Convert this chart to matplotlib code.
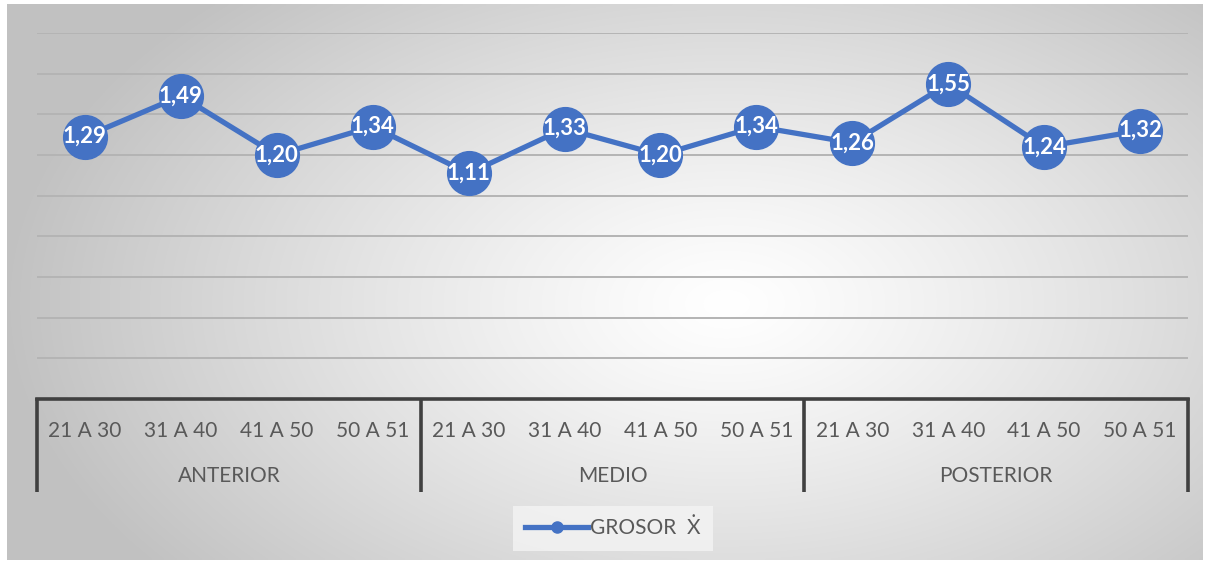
import numpy as np
import matplotlib
matplotlib.use("Agg")
import matplotlib.pyplot as plt
from matplotlib.lines import Line2D
from matplotlib.transforms import blended_transform_factory

plt.rcParams['font.family'] = ['Lato', 'DejaVu Sans']

# datos
rangos = ["21 A 30", "31 A 40", "41 A 50", "50 A 51"]
zonas = ["ANTERIOR", "MEDIO", "POSTERIOR"]
grosor = [1.29, 1.49, 1.20, 1.34, 1.11, 1.33, 1.20, 1.34, 1.26, 1.55, 1.24, 1.32]
serie = "GROSOR  Ẋ"

W, H = 1213, 564
azul = "#4472C4"
gris_txt = "#595959"

fig = plt.figure(figsize=(W / 100, H / 100), dpi=100)

# fondo con degradado radial
bg = fig.add_axes([7 / W, 4 / H, 1196 / W, 556 / H])
gx, gy = np.meshgrid(np.linspace(0, 1196, 400), np.linspace(0, 556, 200))
r = np.sqrt(((gx - 720) / 720) ** 2 + ((gy - 300) / 430) ** 2)
r = np.clip(r, 0, 1)
grad = 1.0 - 0.24 * r ** 1.2
bg.imshow(np.dstack([grad, grad, grad]), extent=[0, 1, 0, 1], aspect="auto",
          interpolation="bilinear")
bg.set_axis_off()

ax = fig.add_axes([37 / W, 1 - 399 / H, 1151 / W, 366 / H])
ax.patch.set_alpha(0)
x = np.arange(len(grosor))
ax.set_xlim(-0.5, len(grosor) - 0.5)
ax.set_ylim(0, 1.8)

for yv in np.arange(0.2, 1.81, 0.2):
    ax.axhline(yv, color="#b4b4b4", lw=1.4, zorder=1)

ax.plot(x, grosor, color=azul, lw=3.8, marker="o", ms=31.5,
        markerfacecolor=azul, markeredgecolor=azul, zorder=3, clip_on=False)
for xi, v in zip(x, grosor):
    ax.text(xi, v, ("%.2f" % v).replace(".", ","), color="white",
            fontsize=16, fontweight="bold", ha="center", va="center",
            zorder=4)

for s in ["top", "left", "right"]:
    ax.spines[s].set_visible(False)
ax.spines["bottom"].set_color("#404040")
ax.spines["bottom"].set_linewidth(2.6)
ax.set_xticks([])
ax.set_yticks([])

# eje de categorias en dos niveles
tr = blended_transform_factory(ax.transData, fig.transFigure)
for xi in x:
    ax.text(xi, 1 - 431 / H, rangos[xi % 4], transform=tr, ha="center",
            va="center", fontsize=15, color=gris_txt)
for k, z in enumerate(zonas):
    ax.text(4 * k + 1.5, 1 - 476 / H, z, transform=tr, ha="center",
            va="center", fontsize=15, color=gris_txt)
for b in [-0.5, 3.5, 7.5, 11.5]:
    ax.plot([b, b], [1 - 398 / H, 1 - 492 / H], transform=tr, color="#404040",
            lw=2.6, clip_on=False, solid_capstyle="butt")

handle = Line2D([], [], color=azul, lw=3.8, marker="o", ms=8)
leg = fig.legend([handle], [serie], loc="center", bbox_to_anchor=(613 / W, 1 - 528 / H),
                 frameon=True, fancybox=False, facecolor="#f4f4f4", edgecolor="none",
                 fontsize=15, handlelength=3.0, handletextpad=0.1,
                 borderpad=0.6)
for t in leg.get_texts():
    t.set_color(gris_txt)

fig.savefig("out.png", dpi=100)
